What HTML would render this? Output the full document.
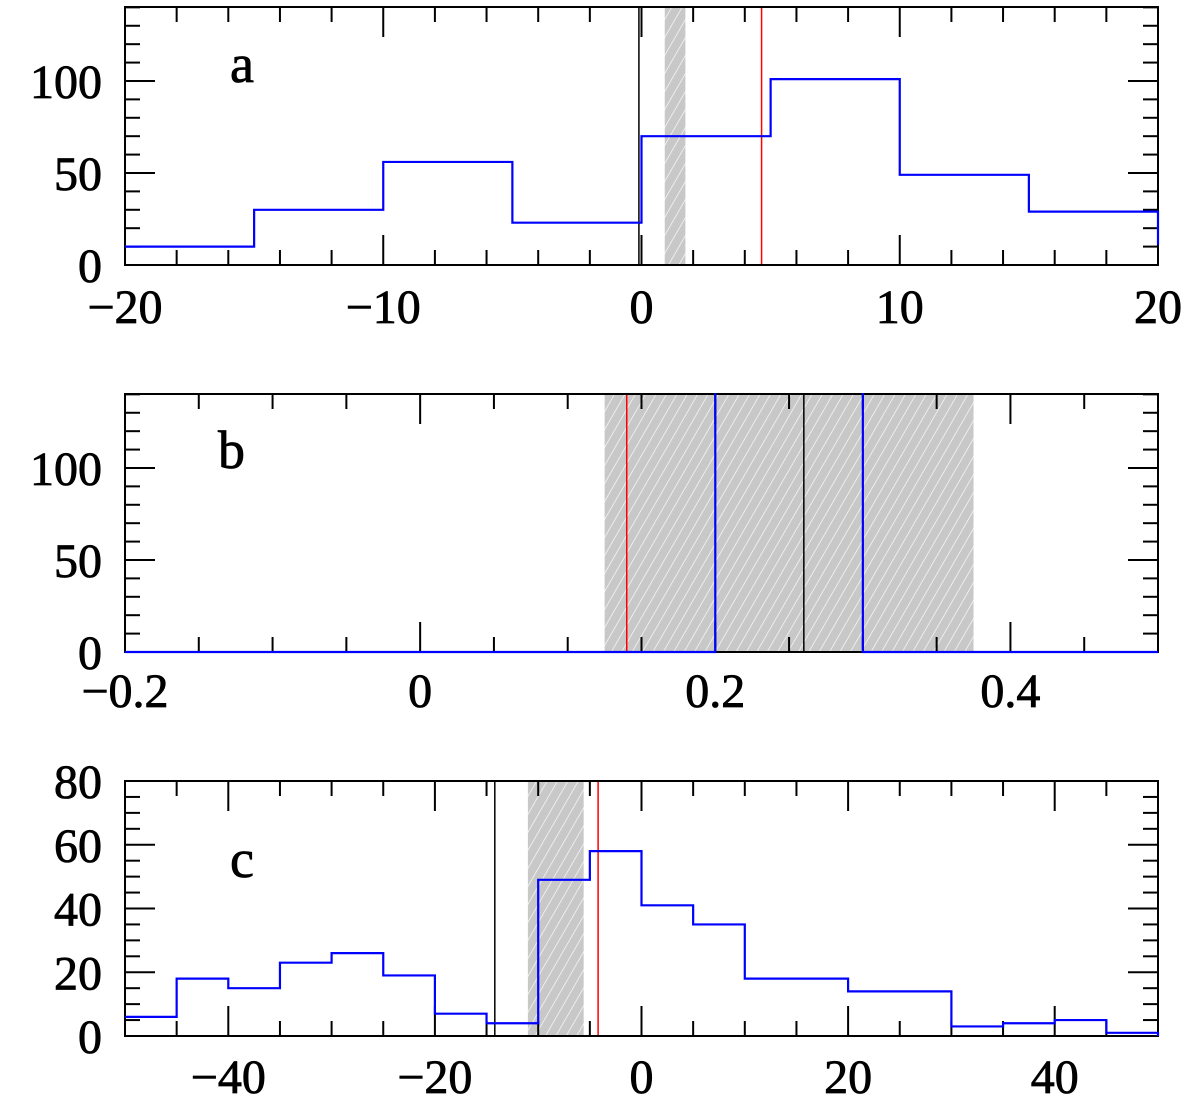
<!DOCTYPE html>
<html><head><meta charset="utf-8"><style>
body{margin:0;background:#fff}
svg text{font-family:"Liberation Serif",serif;font-size:48px;fill:#000;stroke:#000;stroke-width:0.8}
</style></head><body>
<svg id="c" width="1200" height="1103" viewBox="0 0 1200 1103" xmlns="http://www.w3.org/2000/svg">
<defs>
<pattern id="hatch" patternUnits="userSpaceOnUse" width="9" height="9" patternTransform="rotate(30)">
<rect width="9" height="9" fill="#c8c8c8"/>
<line x1="0" y1="0" x2="0" y2="9" stroke="#fff" stroke-width="1.3"/>
</pattern>
</defs>
</svg>
<script>
// Panel a data
const aEdges0 = -20, aBinW = 5;
const aCounts = [10, 30, 56, 23, 70, 101, 49, 29];
const aTrail = 11;
const aBlack = -0.1, aRed = 4.65, aShade = [0.9, 1.7];
// Panel b data
const bEdges = [-0.2, 0.2, 0.3, 0.5];
const bCounts = [0, 1000, 0];
const bBlack = 0.26, bRed = 0.14, bShade = [0.125, 0.375];
// Panel c data
const cEdges0 = -50, cBinW = 5;
const cCounts = [6, 18, 15, 23, 26, 19, 7, 4, 49, 58, 41, 35, 18, 18, 14, 14, 3, 4, 5, 1];
const cBlack = -14.2, cRed = -4.2, cShade = [-11, -5.6];

const svg = document.getElementById('c');
const NS = 'http://www.w3.org/2000/svg';
function mk(tag, attrs, parent){const e=document.createElementNS(NS,tag);for(const k in attrs)e.setAttribute(k,attrs[k]);(parent||svg).appendChild(e);return e;}

function panel(cfg){
  const g = mk('g',{});
  
  
  const L=125,R=1158,T=cfg.top,B=cfg.bottom;
  const X=v=>L+(v-cfg.xmin)/(cfg.xmax-cfg.xmin)*(R-L);
  const Y=v=>B-(v-cfg.ymin)/(cfg.ymax-cfg.ymin)*(B-T);
  const clip='clip'+cfg.name;
  const cp=mk('clipPath',{id:clip},g); mk('rect',{x:L-2,y:T-1,width:R-L+4,height:B-T+3},cp);
  const sh=mk('rect',{x:X(cfg.shade[0]),y:T,width:X(cfg.shade[1])-X(cfg.shade[0]),height:B-T,fill:'url(#hatch)'},g);
  
  
  const bl=mk('line',{x1:X(cfg.black),x2:X(cfg.black),y1:T,y2:B,stroke:'#000','stroke-width':1.5},g);
  
  
  const rl=mk('line',{x1:X(cfg.red),x2:X(cfg.red),y1:T,y2:B,stroke:'#f00','stroke-width':1.5},g);
  
  
  const fr=mk('rect',{x:L,y:T,width:R-L,height:B-T,fill:'none',stroke:'#000','stroke-width':2},g);
  
  
  const eps=1e-9;
  for(let v=cfg.xmin;v<=cfg.xmax+eps;v+=cfg.xminor){
    const major=Math.abs(v/cfg.xmajor-Math.round(v/cfg.xmajor))<1e-6;
    const len=major?30:15;
    const x=X(v);
    mk('line',{x1:x,x2:x,y1:B,y2:B-len,stroke:'#000','stroke-width':2},g);
    mk('line',{x1:x,x2:x,y1:T,y2:T+len,stroke:'#000','stroke-width':2},g);
  }
  for(let v=cfg.ymin;v<=cfg.ymax+eps;v+=cfg.yminor){
    const major=Math.abs(v/cfg.ymajor-Math.round(v/cfg.ymajor))<1e-6;
    const len=major?30:15;
    const y=Y(v);
    mk('line',{x1:L,x2:L+len,y1:y,y2:y,stroke:'#000','stroke-width':2},g);
    mk('line',{x1:R,x2:R-len,y1:y,y2:y,stroke:'#000','stroke-width':2},g);
  }
  let d='M'+X(cfg.edges[0])+','+Y(cfg.counts[0]);
  for(let i=0;i<cfg.counts.length;i++){
    d+=' L'+X(cfg.edges[i])+','+Y(cfg.counts[i])+' L'+X(cfg.edges[i+1])+','+Y(cfg.counts[i]);
  }
  d+=' L'+X(cfg.edges[cfg.edges.length-1])+','+Y(cfg.trail||0);
  const h=mk('path',{d:d,fill:'none',stroke:'#00f','stroke-width':2.2,'clip-path':'url(#'+clip+')'},g);
  
  
  cfg.xlabels.forEach(v=>{
    const t=mk('text',{x:X(v),y:cfg.xlabY,'text-anchor':'middle'},g);
    t.textContent=(v<0?'\u2212':'')+Math.abs(v);
    
    
  });
  cfg.ylabels.forEach(v=>{
    const t=mk('text',{x:102,y:Y(v)+17,'text-anchor':'end'},g);
    t.textContent=String(v);
    
    
  });
  const lt=mk('text',{x:cfg.lx,y:cfg.ly,style:'font-size:54px'},g);
  lt.textContent=cfg.name;
  
  
}

const aE=[];for(let i=0;i<=aCounts.length;i++)aE.push(aEdges0+i*aBinW);
const cE=[];for(let i=0;i<=cCounts.length;i++)cE.push(cEdges0+i*cBinW);

panel({name:'a',top:7,bottom:265,xmin:-20,xmax:20,ymin:0,ymax:140.2,edges:aE,counts:aCounts,trail:aTrail,
  black:aBlack,red:aRed,shade:aShade,xminor:2,xmajor:10,yminor:10,ymajor:50,
  xlabels:[-20,-10,0,10,20],ylabels:[0,50,100],xlabY:323,lx:230,ly:82});
panel({name:'b',top:394,bottom:652,xmin:-0.2,xmax:0.5,ymin:0,ymax:140.2,edges:bEdges,counts:bCounts,
  black:bBlack,red:bRed,shade:bShade,xminor:0.05,xmajor:0.2,yminor:10,ymajor:50,
  xlabels:[-0.2,0,0.2,0.4],ylabels:[0,50,100],xlabY:707,lx:218,ly:468});
panel({name:'c',top:781,bottom:1036,xmin:-50,xmax:50,ymin:0,ymax:80,edges:cE,counts:cCounts,
  black:cBlack,red:cRed,shade:cShade,xminor:5,xmajor:20,yminor:5,ymajor:20,
  xlabels:[-40,-20,0,20,40],ylabels:[0,20,40,60,80],xlabY:1093,lx:230,ly:877});
</script>
</body></html>
